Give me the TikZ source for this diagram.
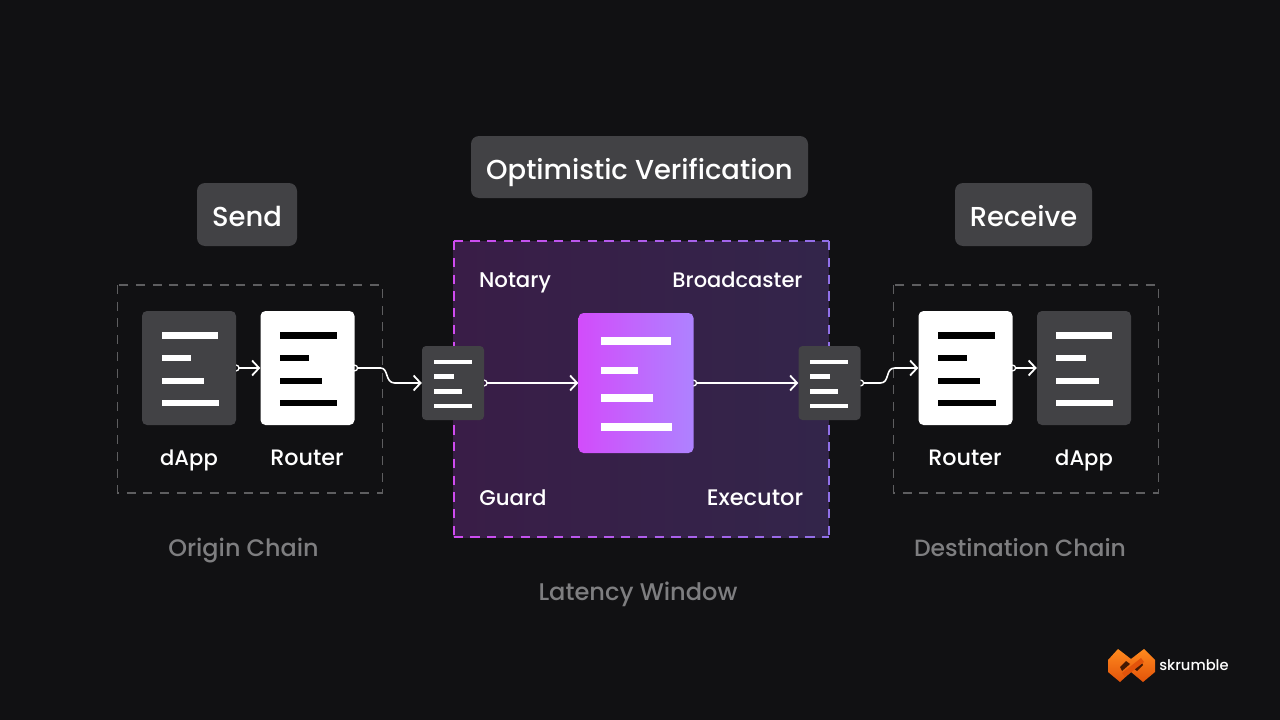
\documentclass[tikz,border=0pt]{standalone}
\usepackage{fontspec}
\setmainfont{Poppins Medium}
\usetikzlibrary{arrows.meta,calc}
\pgfdeclarelayer{bg}
\pgfdeclarelayer{mid}
\pgfsetlayers{bg,mid,main}
\definecolor{bgc}{HTML}{111113}
\definecolor{panel}{HTML}{424245}
\definecolor{capt}{HTML}{7E7E80}
\definecolor{dashg}{HTML}{5E5E60}
\definecolor{magL}{HTML}{CF4BF0}
\definecolor{magR}{HTML}{9070E8}
\definecolor{fillL}{HTML}{391D47}
\definecolor{fillR}{HTML}{33254A}
\definecolor{docL}{HTML}{D24CFB}
\definecolor{docR}{HTML}{AE82FF}
\definecolor{logoA}{HTML}{FF8A1E}
\definecolor{logoB}{HTML}{E2530A}
\tikzset{
  x=1pt,y=-1pt,
  pill/.style={fill=panel,rounded corners=8pt,inner sep=0pt,text=white,text height=0pt,text depth=0pt,font=\fontsize{27.4}{32}\selectfont},
  docbox/.style={rounded corners=5pt,inner sep=0pt,minimum width=94pt,minimum height=114pt,fill=panel},
  minibox/.style={rounded corners=4pt,inner sep=0pt,minimum width=62pt,minimum height=74pt,fill=panel},
  whitebox/.style={docbox,fill=white},
  lab/.style={text=white,anchor=base,font=\fontsize{#1}{26}\selectfont,inner sep=0pt},
  capl/.style={text=capt,anchor=base,font=\fontsize{#1}{28}\selectfont,inner sep=0pt},
  link/.style={draw=white,line width=1.6pt,{Circle[open,length=7pt,width=7pt,line width=1.3pt]}-{Straight Barb[length=7pt,width=15pt,line width=1.8pt]}},
  dashgrey/.style={draw=dashg,line width=1.9pt,dash pattern=on 9pt off 7.7pt},
}
\newcommand{\docbars}[7]{%
  \fill[#7] (#1,#6) rectangle (#2,#6+6.5);
  \fill[#7] (#1,#6+22.7) rectangle (#3,#6+29);
  \fill[#7] (#1,#6+45.5) rectangle (#4,#6+51.5);
  \fill[#7] (#1,#6+68) rectangle (#5,#6+74);
}
\newcommand{\minibars}[5]{%
  \fill[white] (#1,359.5) rectangle (#2,364);
  \fill[white] (#1,374) rectangle (#3,379);
  \fill[white] (#1,389) rectangle (#4,394);
  \fill[white] (#1,403.5) rectangle (#5,408);
}
\begin{document}
\begin{tikzpicture}
\useasboundingbox (0,0) rectangle (1280,720);
\begin{pgfonlayer}{bg}
\fill[bgc] (0,0) rectangle (1280,720);
% central panel
\path[shade,left color=fillL,right color=fillR] (453.5,241) rectangle (828.5,537);
\foreach \i in {0,...,22}{%
  \pgfmathsetmacro{\xa}{453.5+\i*16.75}
  \pgfmathsetmacro{\xb}{min(\xa+9.3,828.5)}
  \pgfmathsetmacro{\mx}{(\xa-453.5)/3.75}
  \draw[line width=2pt,draw={magR!\mx!magL}] (\xa,241) -- (\xb,241);
  \draw[line width=2pt,draw={magR!\mx!magL}] (\xa,537) -- (\xb,537);
}
\foreach \i in {0,...,17}{%
  \pgfmathsetmacro{\ya}{241+\i*16.75}
  \pgfmathsetmacro{\yb}{min(\ya+9.3,537)}
  \draw[line width=2pt,draw=magL] (453.5,\ya) -- (453.5,\yb);
  \draw[line width=2pt,draw=magR] (828.5,\ya) -- (828.5,\yb);
}
% grey dashed frames
\draw[dashgrey] (117.5,285) rectangle (382.5,493);
\draw[dashgrey] (893.5,285) rectangle (1158.5,493);
\end{pgfonlayer}

% headings
\node[pill,minimum width=100pt,minimum height=63pt] (send) at (247,214.5) {\raisebox{-11.5pt}{Send}};
\node[pill,minimum width=337pt,minimum height=62pt] (opt) at (639.5,167) {\raisebox{-12pt}{Optimistic Verification}};
\node[pill,minimum width=137pt,minimum height=63pt] (recv) at (1023.5,214.5) {\raisebox{-11.5pt}{Receive}};

% documents
\node[docbox] (dappL) at (189,368) {};
\node[whitebox] (routerL) at (307.5,368) {};
\node[minibox] (miniL) at (453,383) {};
\node[minibox] (miniR) at (829.5,383) {};
\node[whitebox] (routerR) at (965.5,368) {};
\node[docbox] (dappR) at (1084,368) {};
\node[rounded corners=5pt,inner sep=0pt,minimum width=115pt,minimum height=140pt] (core) at (636,383) {};
\shade[left color=docL,right color=docR,rounded corners=5pt] (578.5,313) rectangle (693.5,453);

\docbars{161.5}{218}{191}{204}{218.5}{332}{white}
\docbars{279.5}{336.5}{309}{322}{337}{332}{black}
\docbars{937.5}{995}{967}{980}{995.5}{332}{black}
\docbars{1056}{1112}{1086}{1099}{1113}{332}{white}
\minibars{434}{472}{454}{462}{472}
\minibars{810}{848}{830}{838}{848}
\fill[white] (600.5,337) rectangle (670.7,345);
\fill[white] (600.5,366.7) rectangle (638,374.3);
\fill[white] (600.5,394.3) rectangle (653,402);
\fill[white] (600.5,423) rectangle (671.7,430.7);

% connectors (under the boxes, so that each start ring shows by half)
\begin{pgfonlayer}{mid}
\draw[link] ($(dappL.east)+(-3.5,0)$) -- (routerL.west);
\draw[link] ($(routerL.east)+(-3.5,0)$) -- ($(routerL.east)+(26,0)$) .. controls ($(routerL.east)+(34,0)$) and ($(miniL.west)+(-37,0)$) .. ($(miniL.west)+(-27,0)$) -- (miniL.west);
\draw[link] ($(miniL.east)+(-3.5,0)$) -- (core.west);
\draw[link] ($(core.east)+(-3.5,0)$) -- (miniR.west);
\draw[link] ($(miniR.east)+(-3.5,0)$) -- ($(miniR.east)+(19.5,0)$) .. controls ($(miniR.east)+(29.5,0)$) and ($(routerR.west)+(-33.5,0)$) .. ($(routerR.west)+(-23.5,0)$) -- (routerR.west);
\draw[link] ($(routerR.east)+(-3.5,0)$) -- (dappR.west);
\end{pgfonlayer}

% labels
\node[lab=21.1] (l1) at (189,465) {dApp};
\node[lab=22.3] (l2) at (307,465) {Router};
\node[lab=22.3] (l3) at (965,465) {Router};
\node[lab=21.1] (l4) at (1084,465) {dApp};
\node[lab=21.3] (l5) at (515,287) {Notary};
\node[lab=21] (l6) at (737.5,287) {Broadcaster};
\node[lab=21.3] (l7) at (513,505) {Guard};
\node[lab=22.5] (l8) at (755,505) {Executor};
\node[capl=23.9] (c1) at (243.5,556) {Origin Chain};
\node[capl=24.1] (c2) at (638,600) {Latency Window};
\node[capl=23.5] (c3) at (1020,556) {Destination Chain};

% logo
\shade[top color=logoA,bottom color=logoB] (1108,660) -- (1118,649) -- (1131,659) -- (1144,649) -- (1155,660) -- (1155,672) -- (1143,682) -- (1131,672) -- (1120,682) -- (1108,672) -- cycle;
\fill[black!70!logoB] (1120,667) -- (1126,661) -- (1130,664) -- (1122,671) -- cycle;
\fill[black!70!logoB] (1143,665) -- (1137,671) -- (1133,668) -- (1141,661) -- cycle;
\fill[logoB] (1122,673) -- (1141,658) -- (1144,662) -- (1125,677) -- cycle;
\node[text=white,anchor=base,font=\fontsize{14.7}{18}\selectfont,inner sep=0pt] (brand) at (1194,670) {skrumble};
\end{tikzpicture}
\end{document}
